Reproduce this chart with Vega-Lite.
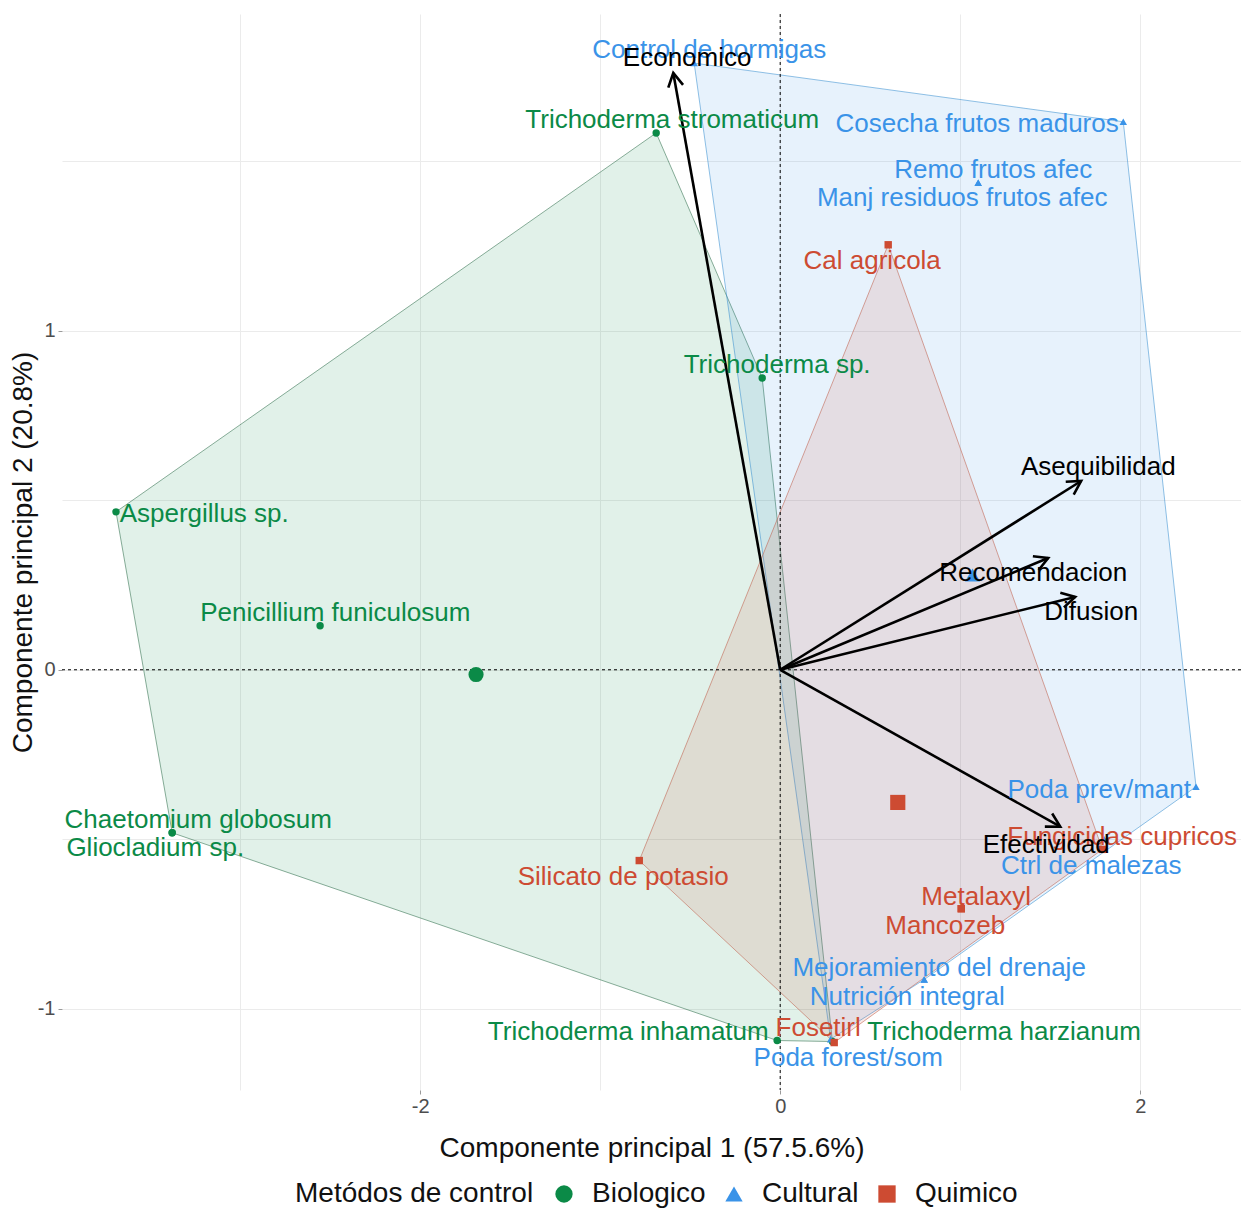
{
  "$schema": "https://vega.github.io/schema/vega-lite/v6.json",
  "width": 1179,
  "height": 1076,
  "autosize": {"type": "none"},
  "padding": {"left": 62, "top": 14, "right": 0, "bottom": 119},
  "background": "white",
  "config": {
    "view": {"stroke": null},
    "font": "Liberation Sans",
    "axis": {
      "domain": false,
      "grid": true,
      "gridColor": "#ebebeb",
      "gridWidth": 1,
      "tickColor": "#9a9a9a",
      "tickSize": 4,
      "labelFont": "Liberation Sans",
      "labelFontSize": 20,
      "labelColor": "#4d4d4d",
      "titleFont": "Liberation Sans",
      "titleFontSize": 28,
      "titleFontWeight": "normal",
      "titleColor": "#111111"
    },
    "legend": {
      "titleFont": "Liberation Sans",
      "labelFont": "Liberation Sans",
      "titleFontSize": 28,
      "labelFontSize": 28,
      "titleFontWeight": "normal",
      "titleColor": "#111111",
      "labelColor": "#111111",
      "titleLimit": 600,
      "labelLimit": 400
    }
  },
  "datasets": {
    "puntos": [
      {"nombre": "Trichoderma stromaticum", "grupo": "Biologico", "x": -0.689, "y": 1.584, "hull": 1},
      {"nombre": "Trichoderma sp.", "grupo": "Biologico", "x": -0.1, "y": 0.861, "hull": 6},
      {"nombre": "Aspergillus sp.", "grupo": "Biologico", "x": -3.69, "y": 0.466, "hull": 2},
      {"nombre": "Penicillium funiculosum", "grupo": "Biologico", "x": -2.556, "y": 0.13, "hull": null},
      {"nombre": "Chaetomium globosum", "grupo": "Biologico", "x": -3.378, "y": -0.481, "hull": 3},
      {"nombre": "Gliocladium sp.", "grupo": "Biologico", "x": -3.378, "y": -0.481, "hull": null},
      {"nombre": "Trichoderma inhamatum", "grupo": "Biologico", "x": -0.017, "y": -1.094, "hull": 4},
      {"nombre": "Trichoderma harzianum", "grupo": "Biologico", "x": 0.29, "y": -1.097, "hull": 5},
      {"nombre": "Control de hormigas", "grupo": "Cultural", "x": -0.478, "y": 1.79, "hull": 1},
      {"nombre": "Cosecha frutos maduros", "grupo": "Cultural", "x": 1.906, "y": 1.617, "hull": 2},
      {"nombre": "Remo frutos afec", "grupo": "Cultural", "x": 1.1, "y": 1.437, "hull": null},
      {"nombre": "Manj residuos frutos afec", "grupo": "Cultural", "x": 1.1, "y": 1.437, "hull": null},
      {"nombre": "Poda prev/mant", "grupo": "Cultural", "x": 2.31, "y": -0.345, "hull": 3},
      {"nombre": "Ctrl de malezas", "grupo": "Cultural", "x": 1.8, "y": -0.5, "hull": null},
      {"nombre": "Mejoramiento del drenaje", "grupo": "Cultural", "x": 0.8, "y": -0.914, "hull": 4},
      {"nombre": "Nutrición integral", "grupo": "Cultural", "x": 0.8, "y": -0.914, "hull": null},
      {"nombre": "Poda forest/som", "grupo": "Cultural", "x": 0.28, "y": -1.09, "hull": 5},
      {"nombre": "Cal agricola", "grupo": "Quimico", "x": 0.6, "y": 1.254, "hull": 1},
      {"nombre": "Silicato de potasio", "grupo": "Quimico", "x": -0.783, "y": -0.563, "hull": 4},
      {"nombre": "Fosetirl", "grupo": "Quimico", "x": 0.3, "y": -1.1, "hull": 3},
      {"nombre": "Metalaxyl", "grupo": "Quimico", "x": 1.006, "y": -0.705, "hull": null},
      {"nombre": "Mancozeb", "grupo": "Quimico", "x": 1.006, "y": -0.705, "hull": null},
      {"nombre": "Fungicidas cupricos", "grupo": "Quimico", "x": 1.79, "y": -0.53, "hull": 2}
    ],
    "etiquetas": [
      {"nombre": "Control de hormigas", "grupo": "Cultural", "lx": -0.394, "ly": 1.829},
      {"nombre": "Trichoderma stromaticum", "grupo": "Biologico", "lx": -0.6, "ly": 1.622},
      {"nombre": "Cosecha frutos maduros", "grupo": "Cultural", "lx": 1.094, "ly": 1.611},
      {"nombre": "Remo frutos afec", "grupo": "Cultural", "lx": 1.183, "ly": 1.475},
      {"nombre": "Manj residuos frutos afec", "grupo": "Cultural", "lx": 1.011, "ly": 1.392},
      {"nombre": "Cal agricola", "grupo": "Quimico", "lx": 0.511, "ly": 1.206},
      {"nombre": "Trichoderma sp.", "grupo": "Biologico", "lx": -0.017, "ly": 0.9},
      {"nombre": "Aspergillus sp.", "grupo": "Biologico", "lx": -3.2, "ly": 0.46},
      {"nombre": "Penicillium funiculosum", "grupo": "Biologico", "lx": -2.472, "ly": 0.168},
      {"nombre": "Poda prev/mant", "grupo": "Cultural", "lx": 1.772, "ly": -0.354},
      {"nombre": "Chaetomium globosum", "grupo": "Biologico", "lx": -3.233, "ly": -0.442},
      {"nombre": "Gliocladium sp.", "grupo": "Biologico", "lx": -3.472, "ly": -0.525},
      {"nombre": "Fungicidas cupricos", "grupo": "Quimico", "lx": 1.9, "ly": -0.493},
      {"nombre": "Ctrl de malezas", "grupo": "Cultural", "lx": 1.728, "ly": -0.578},
      {"nombre": "Silicato de potasio", "grupo": "Quimico", "lx": -0.872, "ly": -0.611},
      {"nombre": "Metalaxyl", "grupo": "Quimico", "lx": 1.089, "ly": -0.67},
      {"nombre": "Mancozeb", "grupo": "Quimico", "lx": 0.917, "ly": -0.755},
      {"nombre": "Mejoramiento del drenaje", "grupo": "Cultural", "lx": 0.883, "ly": -0.879},
      {"nombre": "Nutrición integral", "grupo": "Cultural", "lx": 0.706, "ly": -0.965},
      {"nombre": "Trichoderma inhamatum", "grupo": "Biologico", "lx": -0.844, "ly": -1.068},
      {"nombre": "Fosetirl", "grupo": "Quimico", "lx": 0.211, "ly": -1.056},
      {"nombre": "Trichoderma harzianum", "grupo": "Biologico", "lx": 1.244, "ly": -1.068},
      {"nombre": "Poda forest/som", "grupo": "Cultural", "lx": 0.378, "ly": -1.145}
    ],
    "variables": [
      {"variable": "Economico", "x": -0.594, "y": 1.761, "lx": -0.517, "ly": 1.805},
      {"variable": "Asequibilidad", "x": 1.672, "y": 0.557, "lx": 1.767, "ly": 0.599},
      {"variable": "Recomendacion", "x": 1.489, "y": 0.33, "lx": 1.406, "ly": 0.286},
      {"variable": "Difusion", "x": 1.639, "y": 0.215, "lx": 1.728, "ly": 0.171},
      {"variable": "Efectividad", "x": 1.556, "y": -0.463, "lx": 1.478, "ly": -0.516}
    ]
  },
  "layer": [
    {
      "data": {"name": "puntos"},
      "transform": [{"filter": "datum.hull != null"}],
      "mark": {"type": "line", "interpolate": "linear-closed", "fillOpacity": 0.12, "strokeWidth": 0.8, "strokeOpacity": 0.7},
      "encoding": {
        "x": {"field": "x", "type": "quantitative", "scale": {"domain": [-3.99, 2.56], "nice": false, "zero": false},
              "title": "Componente principal 1 (57.5.6%)",
              "axis": {"values": [-3, -2, -1, 0, 1, 2], "labelExpr": "datum.value % 2 === 0 ? '' + datum.value : ''",
                       "tickOpacity": {"condition": {"test": "datum.value % 2 === 0", "value": 1}, "value": 0},
                       "labelPadding": 2, "titlePadding": 18}},
        "y": {"field": "y", "type": "quantitative", "scale": {"domain": [-1.24, 1.935], "nice": false, "zero": false},
              "title": "Componente principal 2 (20.8%)",
              "axis": {"values": [-1, -0.5, 0, 0.5, 1, 1.5], "labelExpr": "datum.value % 1 === 0 ? '' + datum.value : ''",
                       "tickOpacity": {"condition": {"test": "datum.value % 1 === 0", "value": 1}, "value": 0},
                       "labelPadding": 3, "titlePadding": 0}},
        "order": {"field": "hull", "type": "quantitative"},
        "detail": {"field": "grupo"},
        "fill": {"field": "grupo", "type": "nominal", "scale": {"domain": ["Quimico", "Cultural", "Biologico"], "range": ["#cd4b32", "#3a93e8", "#0b8a47"]}, "legend": null},
        "stroke": {"field": "grupo", "type": "nominal", "scale": {"domain": ["Cultural", "Quimico", "Biologico"], "range": ["#3a8fd0", "#c0604c", "#2f6e4c"]}, "legend": null}
      }
    },
    {
      "data": {"values": [{"v": 0}]},
      "mark": {"type": "rule", "strokeDash": [3, 3], "strokeWidth": 1, "color": "#000000"},
      "encoding": {"x": {"datum": 0, "type": "quantitative"}}
    },
    {
      "data": {"values": [{"v": 0}]},
      "mark": {"type": "rule", "strokeDash": [3, 3], "strokeWidth": 1, "color": "#000000"},
      "encoding": {"y": {"datum": 0, "type": "quantitative"}}
    },
    {
      "data": {"name": "puntos"},
      "mark": {"type": "point", "filled": true, "opacity": 1, "size": 55},
      "encoding": {
        "x": {"field": "x", "type": "quantitative"},
        "y": {"field": "y", "type": "quantitative"},
        "color": {"field": "grupo", "type": "nominal", "title": "Metódos de control",
                  "scale": {"domain": ["Biologico", "Cultural", "Quimico"], "range": ["#0b8a47", "#3a93e8", "#cd4b32"]},
                  "legend": {"orient": "none", "legendX": 233, "legendY": 1166, "direction": "horizontal", "titleOrient": "left", "symbolSize": 300, "labelOffset": 14, "columnPadding": 14, "titlePadding": 16}},
        "shape": {"field": "grupo", "type": "nominal", "title": "Metódos de control",
                  "scale": {"domain": ["Biologico", "Cultural", "Quimico"], "range": ["circle", "triangle-up", "square"]},
                  "legend": {"orient": "none", "legendX": 233, "legendY": 1166, "direction": "horizontal", "titleOrient": "left", "symbolSize": 300, "labelOffset": 14, "columnPadding": 14, "titlePadding": 16}}
      }
    },
    {
      "data": {"name": "puntos"},
      "transform": [{"aggregate": [{"op": "mean", "field": "x", "as": "x"}, {"op": "mean", "field": "y", "as": "y"}], "groupby": ["grupo"]}],
      "mark": {"type": "point", "filled": true, "opacity": 1, "size": 230},
      "encoding": {
        "x": {"field": "x", "type": "quantitative"},
        "y": {"field": "y", "type": "quantitative"},
        "color": {"field": "grupo", "type": "nominal", "title": "Metódos de control",
                  "legend": {"orient": "none", "legendX": 233, "legendY": 1166, "direction": "horizontal", "titleOrient": "left", "symbolSize": 300, "labelOffset": 14, "columnPadding": 14, "titlePadding": 16}},
        "shape": {"field": "grupo", "type": "nominal", "title": "Metódos de control",
                  "legend": {"orient": "none", "legendX": 233, "legendY": 1166, "direction": "horizontal", "titleOrient": "left", "symbolSize": 300, "labelOffset": 14, "columnPadding": 14, "titlePadding": 16}}
      }
    },
    {
      "data": {"name": "variables"},
      "mark": {"type": "rule", "strokeWidth": 2.6, "color": "#000000"},
      "encoding": {
        "x": {"field": "x", "type": "quantitative"},
        "y": {"field": "y", "type": "quantitative"},
        "x2": {"datum": 0},
        "y2": {"datum": 0}
      }
    },
    {
      "data": {"name": "variables"},
      "transform": [{"calculate": "atan2(-datum.y * 338.9, datum.x * 180) * 180 / PI", "as": "ang"}],
      "mark": {"type": "point", "shape": "M -0.9 -0.5 L 0 0 L -0.9 0.5", "filled": false, "stroke": "#000000", "strokeWidth": 2.6, "size": 900, "opacity": 1, "strokeJoin": "miter"},
      "encoding": {
        "x": {"field": "x", "type": "quantitative"},
        "y": {"field": "y", "type": "quantitative"},
        "angle": {"field": "ang", "type": "quantitative", "scale": null}
      }
    },
    {
      "data": {"name": "etiquetas"},
      "mark": {"type": "text", "font": "Liberation Sans", "fontSize": 26, "align": "center", "baseline": "middle"},
      "encoding": {
        "x": {"field": "lx", "type": "quantitative"},
        "y": {"field": "ly", "type": "quantitative"},
        "text": {"field": "nombre"},
        "fill": {"field": "grupo", "type": "nominal", "legend": null}
      }
    },
    {
      "data": {"name": "variables"},
      "mark": {"type": "text", "font": "Liberation Sans", "fontSize": 26, "align": "center", "baseline": "middle", "color": "#000000"},
      "encoding": {
        "x": {"field": "lx", "type": "quantitative"},
        "y": {"field": "ly", "type": "quantitative"},
        "text": {"field": "variable"}
      }
    }
  ]
}
